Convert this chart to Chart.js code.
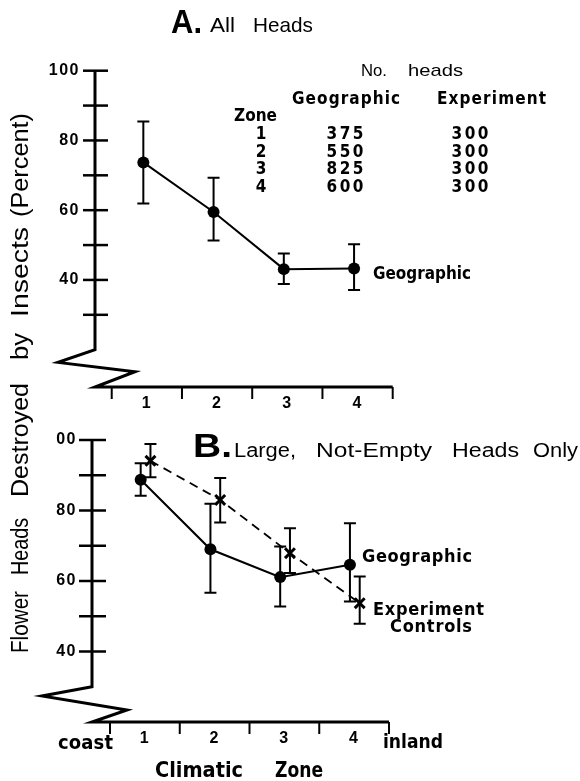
<!DOCTYPE html>
<html><head><meta charset="utf-8">
<script src="https://cdn.jsdelivr.net/npm/chart.js@4.4.1/dist/chart.umd.min.js"></script>
<style>
html,body{margin:0;padding:0;background:#fff;}
#wrap{position:relative;width:580px;height:781px;overflow:hidden;background:#fff;}
canvas{position:absolute;left:0;top:0;}
</style></head><body>
<div id="wrap"><canvas id="cA" width="580" height="781"></canvas><canvas id="cB" width="580" height="781"></canvas></div>
<script>
// ---------------- data ----------------
const zones = [1, 2, 3, 4];
const zoneLabels = ['1', '2', '3', '4'];
// Panel A: all heads (geographic survey), percent destroyed
const allGeo     = [73.7, 59.5, 43.1, 43.3];
const allGeoLow  = [61.9, 51.3, 38.8, 37.1];
const allGeoHigh = [85.4, 69.3, 47.6, 50.2];
// Panel B: large, not-empty heads only
const bigGeo     = [88.7, 69.0, 61.1, 64.6];
const bigGeoLow  = [84.2, 56.7, 52.8, 54.2];
const bigGeoHigh = [93.4, 81.9, 69.8, 76.4];
const bigExp     = [94.1, 83.0, 67.9, 53.7];
const bigExpLow  = [89.4, 76.6, 62.3, 47.9];
const bigExpHigh = [98.9, 89.2, 75.0, 61.3];
// table: number of heads
const headsGeographic = ['375', '550', '825', '600'];
const headsExperiment = ['300', '300', '300', '300'];
// y tick labels
const yTickValues  = [40, 60, 80, 100];
const yTickLabelsA = ['40', '60', '80', '100'];
const yTickLabelsB = ['40', '60', '80', '00'];

// ---------------- styles ----------------
const SANS = '"Liberation Sans", Arial, sans-serif';
const NARROW = '"Liberation Sans Narrow", "DejaVu Sans Condensed", "Liberation Sans", sans-serif';
const SHIFT_A_GEO = -0.05, SHIFT_B_GEO = -0.06, SHIFT_B_EXP = 0.08;

// draw text so that it spans width w: letter-spaced (mode 'space') or horizontally scaled (mode 'scale')
function fitText(ctx, text, x, y, w, font, align, mode) {
  ctx.save();
  ctx.font = font;
  ctx.fillStyle = '#000';
  ctx.textBaseline = 'alphabetic';
  ctx.textAlign = 'left';
  const hasLS = ('letterSpacing' in ctx);
  if (hasLS) ctx.letterSpacing = '0px';
  const w0 = ctx.measureText(text).width;
  if (!w) { ctx.textAlign = align === 'center' ? 'center' : 'left'; ctx.fillText(text, x, y); ctx.restore(); return; }
  const left = align === 'center' ? x - w / 2 : x;
  if (mode !== 'scale' && w > w0 && hasLS && text.length > 1) {
    ctx.letterSpacing = ((w - w0) / (text.length - 1)) + 'px';
    ctx.fillText(text, left, y);
  } else {
    ctx.translate(left, y);
    ctx.scale(w / w0, 1);
    ctx.fillText(text, 0, 0);
  }
  ctx.restore();
}

function drawFrame(chart, cfg) {
  const ctx = chart.ctx, a = chart.chartArea, x = chart.scales.x, y = chart.scales.y;
  ctx.save();
  ctx.strokeStyle = '#000'; ctx.lineWidth = 3; ctx.lineJoin = 'miter'; ctx.lineCap = 'butt';
  const L = a.left, B = a.bottom;
  const yTop = y.getPixelForValue(y.max);
  const yBreak = y.getPixelForValue(cfg.breakValue);
  ctx.beginPath();
  ctx.moveTo(L, yTop);
  ctx.lineTo(L, yBreak);
  cfg.zig.forEach(p => ctx.lineTo(L + p[0], yBreak + p[1] * (B - yBreak)));
  ctx.lineTo(L, B);
  ctx.lineTo(a.right, B);
  ctx.stroke();
  ctx.lineWidth = 2.5;
  y.ticks.forEach(t => {
    if (t.value >= cfg.tickFrom - 0.01) {
      const p = y.getPixelForValue(t.value);
      ctx.beginPath(); ctx.moveTo(L - cfg.tickL, p); ctx.lineTo(L + cfg.tickR, p); ctx.stroke();
    }
  });
  ctx.lineWidth = 2;
  for (let b = 0.5; b <= 4.5; b += 1) {
    const p = x.getPixelForValue(b);
    ctx.beginPath(); ctx.moveTo(p, B); ctx.lineTo(p, B + 12); ctx.stroke();
  }
  ctx.restore();
}

function drawErr(chart, dsIndex, lows, highs) {
  const ctx = chart.ctx, y = chart.scales.y;
  const meta = chart.getDatasetMeta(dsIndex);
  ctx.save(); ctx.strokeStyle = '#000'; ctx.lineWidth = 2; ctx.setLineDash([]);
  meta.data.forEach((pt, i) => {
    const px = pt.x, y1 = y.getPixelForValue(lows[i]), y2 = y.getPixelForValue(highs[i]);
    ctx.beginPath();
    ctx.moveTo(px, y1); ctx.lineTo(px, y2);
    ctx.moveTo(px - 6, y1); ctx.lineTo(px + 6, y1);
    ctx.moveTo(px - 6, y2); ctx.lineTo(px + 6, y2);
    ctx.stroke();
  });
  ctx.restore();
}

const lsPlugin = {
  id: 'ls',
  beforeDraw(chart) { if ('letterSpacing' in chart.ctx) chart.ctx.letterSpacing = '1.5px'; },
  afterDraw(chart) { if ('letterSpacing' in chart.ctx) chart.ctx.letterSpacing = '0px'; }
};

const decoA = {
  id: 'decoA',
  afterDraw(chart) {
    const ctx = chart.ctx;
    if ('letterSpacing' in ctx) ctx.letterSpacing = '0px';
    drawFrame(chart, {breakValue: 20, zig: [[-37, 0.34], [40, 0.59]], tickFrom: 30, tickL: 12, tickR: 13});
    drawErr(chart, 0, allGeoLow, allGeoHigh);
    // title
    fitText(ctx, 'A.', 171, 33, 31, 'bold 33px ' + SANS, 'left', 'scale');
    fitText(ctx, 'All', 210, 32, 25, '21px ' + SANS, 'left', 'scale');
    fitText(ctx, 'Heads', 253, 32, 60, '21px ' + SANS, 'left', 'scale');
    // table
    fitText(ctx, 'No.', 361, 76, 26, '17px ' + SANS, 'left', 'scale');
    fitText(ctx, 'heads', 408, 76, 55, '17px ' + SANS, 'left', 'scale');
    fitText(ctx, 'Geographic', 292, 103.5, 108, 'bold 17px ' + NARROW);
    fitText(ctx, 'Experiment', 437, 103.5, 109, 'bold 17px ' + NARROW);
    fitText(ctx, 'Zone', 234, 120.7, 43, 'bold 17px ' + NARROW);
    const rows = [139.3, 156.7, 174, 191.6];
    zones.forEach((z, i) => {
      fitText(ctx, zoneLabels[i], 261, rows[i], 0, 'bold 17px ' + NARROW, 'center');
      fitText(ctx, headsGeographic[i], 345, rows[i], 37, 'bold 17px ' + NARROW, 'center');
      fitText(ctx, headsExperiment[i], 470, rows[i], 37, 'bold 17px ' + NARROW, 'center');
    });
    fitText(ctx, 'Geographic', 373, 279, 98, 'bold 18px ' + NARROW);
    // shared y-axis title (rotated)
    ctx.save();
    ctx.translate(28, 653);
    ctx.rotate(-Math.PI / 2);
    const f = '23px ' + SANS;
    fitText(ctx, 'Flower', 0, 0, 62, f, 'left', 'scale');
    fitText(ctx, 'Heads', 78, 0, 57, f, 'left', 'scale');
    fitText(ctx, 'Destroyed', 156, 0, 114, f, 'left', 'scale');
    fitText(ctx, 'by', 293, 0, 27, f, 'left', 'scale');
    fitText(ctx, 'Insects', 336, 0, 90, f, 'left', 'scale');
    fitText(ctx, '(Percent)', 436, 0, 104, f, 'left', 'scale');
    ctx.restore();
  }
};

const decoB = {
  id: 'decoB',
  afterDraw(chart) {
    const ctx = chart.ctx;
    if ('letterSpacing' in ctx) ctx.letterSpacing = '0px';
    drawFrame(chart, {breakValue: 30, zig: [[-50, 0.26], [35, 0.66]], tickFrom: 40, tickL: 13, tickR: 14});
    drawErr(chart, 0, bigGeoLow, bigGeoHigh);
    drawErr(chart, 1, bigExpLow, bigExpHigh);
    fitText(ctx, 'B.', 193, 457, 39, 'bold 33px ' + SANS, 'left', 'scale');
    fitText(ctx, 'Large,', 234, 457, 62, '20px ' + SANS, 'left', 'scale');
    fitText(ctx, 'Not-Empty', 316, 457, 116, '20px ' + SANS, 'left', 'scale');
    fitText(ctx, 'Heads', 452, 457, 67, '20px ' + SANS, 'left', 'scale');
    fitText(ctx, 'Only', 533, 457, 45, '20px ' + SANS, 'left', 'scale');
    fitText(ctx, 'Geographic', 362, 561.7, 110, 'bold 18px ' + NARROW);
    fitText(ctx, 'Experiment', 373, 615, 111, 'bold 18px ' + NARROW);
    fitText(ctx, 'Controls', 390, 631.7, 82, 'bold 18px ' + NARROW);
    fitText(ctx, 'coast', 58, 749, 55, 'bold 20px ' + NARROW);
    fitText(ctx, 'inland', 383, 748, 60, 'bold 20px ' + NARROW);
    fitText(ctx, 'Climatic', 155, 777, 88, 'bold 22px ' + NARROW);
    fitText(ctx, 'Zone', 275, 777, 48, 'bold 22px ' + NARROW);
  }
};

function makeChart(id, o) {
  const tickFont = {family: SANS, size: 16, weight: 'bold'};
  return new Chart(document.getElementById(id), {
    type: 'scatter',
    data: {datasets: o.datasets},
    options: {
      responsive: false, animation: false, devicePixelRatio: 1, events: [],
      layout: {padding: o.padding},
      plugins: {legend: {display: false}, tooltip: {enabled: false}, title: {display: false}},
      scales: {
        x: {
          type: 'linear', min: o.xmin, max: 4.5,
          grid: {display: false, drawTicks: false}, border: {display: false},
          ticks: {stepSize: 1, includeBounds: false, padding: 7, color: '#000', font: tickFont, autoSkip: false, maxRotation: 0,
            callback: v => { const k = zones.indexOf(Math.round(v * 1000) / 1000); return k >= 0 ? zoneLabels[k] : ''; }},
          afterFit: s => { s.height = 30; }
        },
        y: {
          type: 'linear', min: o.ymin, max: 100,
          grid: {display: false, drawTicks: false}, border: {display: false},
          ticks: {stepSize: 10, includeBounds: false, padding: 15, color: '#000', font: tickFont, autoSkip: false,
            callback: v => { const k = yTickValues.indexOf(Math.round(v)); return k >= 0 ? o.yLabels[k] : ''; }},
          afterFit: s => { s.width = o.yw; }
        }
      }
    },
    plugins: [lsPlugin, o.plugin]
  });
}

const solid = (pts) => ({
  data: pts, showLine: true, borderColor: '#000', borderWidth: 2, pointRadius: 6,
  pointBackgroundColor: '#000', pointBorderColor: '#000', pointBorderWidth: 0, pointStyle: 'circle', clip: false
});

makeChart('cA', {
  padding: {left: 0, top: 70.7, right: 187.3, bottom: 364},
  xmin: 0.262, ymin: 9.3, yw: 95, yLabels: yTickLabelsA, plugin: decoA,
  datasets: [solid(zones.map((z, i) => ({x: z + SHIFT_A_GEO, y: allGeo[i]})))]
});

makeChart('cB', {
  padding: {left: 0, top: 440, right: 191, bottom: 29},
  xmin: 0.242, ymin: 20, yw: 92, yLabels: yTickLabelsB, plugin: decoB,
  datasets: [
    solid(zones.map((z, i) => ({x: z + SHIFT_B_GEO, y: bigGeo[i]}))),
    {
      data: zones.map((z, i) => ({x: z + SHIFT_B_EXP, y: bigExp[i]})), showLine: true,
      borderColor: '#000', borderWidth: 1.8, borderDash: [9, 6], pointStyle: 'crossRot', pointRadius: 7,
      pointBorderColor: '#000', pointBackgroundColor: '#000', pointBorderWidth: 3, clip: false
    }
  ]
});
</script>
</body></html>
